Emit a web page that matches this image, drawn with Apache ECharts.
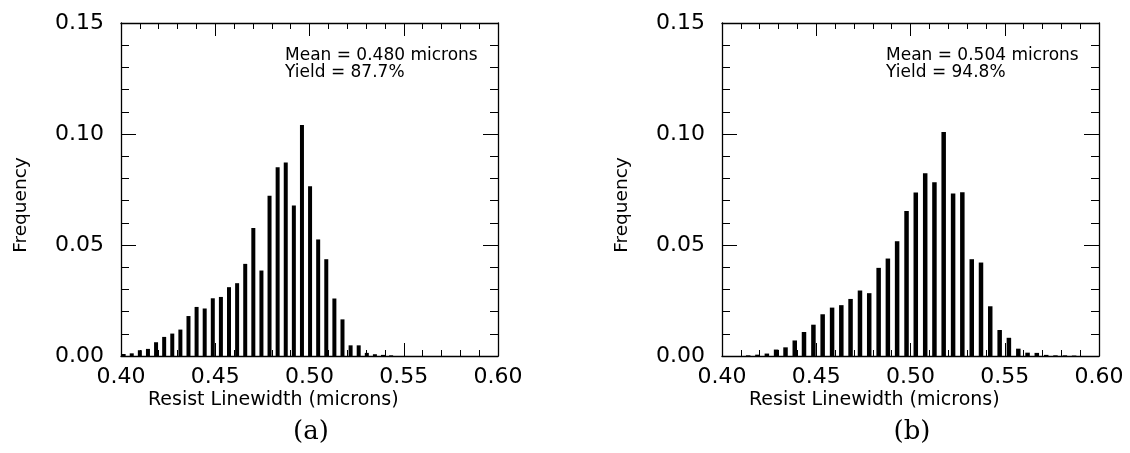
<!DOCTYPE html>
<html>
<head>
<meta charset="utf-8">
<script src="https://cdn.jsdelivr.net/npm/echarts@6/dist/echarts.min.js"></script>
<style>
  html, body { margin: 0; padding: 0; background: #ffffff; }
  #chart { width: 1130px; height: 453px; }
</style>
</head>
<body>
<div id="chart"></div>
<script>
// Histogram (a): bin centres (microns) and relative frequencies
const binsA = [0.4014, 0.4057, 0.4100, 0.4143, 0.4186, 0.4229, 0.4272, 0.4315, 0.4358, 0.4401,
               0.4444, 0.4487, 0.4530, 0.4573, 0.4616, 0.4659, 0.4702, 0.4745, 0.4788, 0.4831,
               0.4874, 0.4917, 0.4960, 0.5003, 0.5046, 0.5089, 0.5132, 0.5175, 0.5218, 0.5261,
               0.5304, 0.5347, 0.5390, 0.5433];
const freqA = [0.0009, 0.0012, 0.0026, 0.0032, 0.0062, 0.0086, 0.0101, 0.0119, 0.0180, 0.0221,
               0.0214, 0.0260, 0.0266, 0.0310, 0.0328, 0.0415, 0.0577, 0.0385, 0.0722, 0.0850,
               0.0872, 0.0678, 0.1041, 0.0765, 0.0525, 0.0436, 0.0259, 0.0165, 0.0048, 0.0048,
               0.0014, 0.0008, 0.0005, 0.0003];

// Histogram (b): bin centres (microns) and relative frequencies
const binsB = [0.4139, 0.4188, 0.4238, 0.4287, 0.4337, 0.4386, 0.4435, 0.4485, 0.4534, 0.4584,
               0.4633, 0.4682, 0.4732, 0.4781, 0.4831, 0.4880, 0.4929, 0.4979, 0.5028, 0.5078,
               0.5127, 0.5176, 0.5226, 0.5275, 0.5325, 0.5374, 0.5423, 0.5473, 0.5522, 0.5572,
               0.5621, 0.5670, 0.5720, 0.5769, 0.5819, 0.5868];
const freqB = [0.0003, 0.0006, 0.0011, 0.0029, 0.0039, 0.0070, 0.0108, 0.0141, 0.0188, 0.0218,
               0.0229, 0.0257, 0.0295, 0.0283, 0.0397, 0.0439, 0.0517, 0.0653, 0.0737, 0.0823,
               0.0783, 0.1009, 0.0732, 0.0738, 0.0436, 0.0421, 0.0224, 0.0117, 0.0082, 0.0033,
               0.0015, 0.0014, 0.0005, 0.0003, 0.0003, 0.0002];

// Axis ranges and tick steps
const xRange = [0.40, 0.60];
const xStep = 0.05;
const yRange = [0.00, 0.15];
const yStep = 0.05;

// Panel texts
const statsA = ['Mean = 0.480 microns', 'Yield = 87.7%'];
const statsB = ['Mean = 0.504 microns', 'Yield = 94.8%'];
const panelTags = ['(a)', '(b)'];
const xTitle = 'Resist Linewidth (microns)';
const yTitle = 'Frequency';

const SANS = '"DejaVu Sans", Verdana, sans-serif';
const SERIF = '"DejaVu Serif", Georgia, serif';
const INK = '#000000';

const grids = [
  { left: 121, right: 632, top: 23, bottom: 97 },
  { left: 722, right: 31, top: 23, bottom: 97 }
];

function xAxes(gi) {
  const common = {
    type: 'value', gridIndex: gi, min: xRange[0], max: xRange[1], interval: xStep,
    splitLine: { show: false },
    axisLine: { show: true, onZero: false, lineStyle: { color: INK, width: 1.3 } },
    axisTick: { show: true, inside: true, length: 13, lineStyle: { color: INK, width: 1 } },
    minorTick: { show: true, splitNumber: 5, length: 6, lineStyle: { color: INK, width: 1 } },
    minorSplitLine: { show: false }
  };
  return [
    Object.assign({}, common, {
      position: 'bottom',
      axisLabel: { show: true, color: INK, fontFamily: SANS, fontSize: 22, margin: 10,
                   formatter: v => v.toFixed(2) }
    }),
    Object.assign({}, common, { position: 'top', axisLabel: { show: false } })
  ];
}

function yAxes(gi) {
  const common = {
    type: 'value', gridIndex: gi, min: yRange[0], max: yRange[1], interval: yStep,
    splitLine: { show: false },
    axisLine: { show: true, onZero: false, lineStyle: { color: INK, width: 1.3 } },
    axisTick: { show: true, inside: true, length: 15, lineStyle: { color: INK, width: 1 } },
    minorTick: { show: true, splitNumber: 5, length: 8, lineStyle: { color: INK, width: 1 } },
    minorSplitLine: { show: false }
  };
  return [
    Object.assign({}, common, {
      position: 'left',
      axisLabel: { show: true, color: INK, fontFamily: SANS, fontSize: 22, margin: 17,
                   formatter: v => v.toFixed(2) }
    }),
    Object.assign({}, common, { position: 'right', axisLabel: { show: false } })
  ];
}

function pairs(xs, ys) {
  return xs.map((x, i) => [x, ys[i]]);
}

// Text blocks for one panel: axis titles, statistics box and the panel tag
function panelTexts(offsetX, stats, tag) {
  return [
    { type: 'text', left: 148 + offsetX, top: 391,
      style: { text: xTitle, font: '19px ' + SANS, fill: INK } },
    { type: 'text', x: 21 + offsetX, y: 205, rotation: Math.PI / 2,
      style: { text: yTitle, font: '18.5px ' + SANS, fill: INK, align: 'center', verticalAlign: 'middle' } },
    { type: 'text', left: 285 + offsetX, top: 47,
      style: { text: stats.join('\n'), font: '17px ' + SANS, fill: INK, lineHeight: 17 } },
    { type: 'text', x: 311 + offsetX, y: 419,
      style: { text: tag, font: '26px ' + SERIF, fill: INK, align: 'center', verticalAlign: 'top' } }
  ];
}

const chart = echarts.init(document.getElementById('chart'), null, { renderer: 'canvas' });

chart.setOption({
  animation: false,
  backgroundColor: '#ffffff',
  grid: grids,
  xAxis: [...xAxes(0), ...xAxes(1)],
  yAxis: [...yAxes(0), ...yAxes(1)],
  graphic: [...panelTexts(0, statsA, panelTags[0]), ...panelTexts(601, statsB, panelTags[1])],
  series: [
    { type: 'bar', xAxisIndex: 0, yAxisIndex: 0, barWidth: 4, data: pairs(binsA, freqA),
      itemStyle: { color: INK }, z: 1 },
    { type: 'bar', xAxisIndex: 2, yAxisIndex: 2, barWidth: 4.5, data: pairs(binsB, freqB),
      itemStyle: { color: INK }, z: 1 }
  ]
});
</script>
</body>
</html>
